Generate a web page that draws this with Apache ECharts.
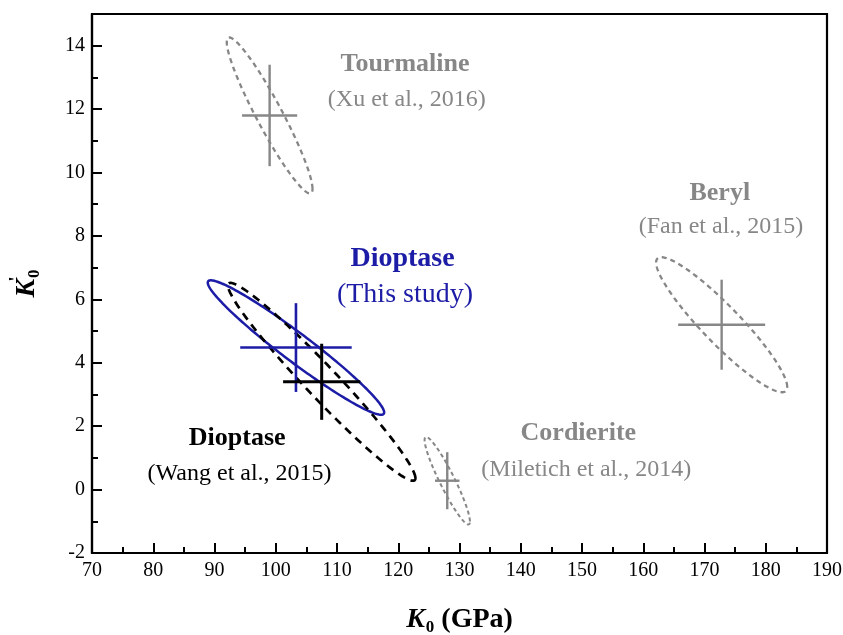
<!DOCTYPE html>
<html>
<head>
<meta charset="utf-8">
<script src="https://cdn.jsdelivr.net/npm/echarts@6/dist/echarts.min.js"></script>
<style>
  html, body { margin: 0; padding: 0; background: #fff; }
  #chart { width: 843px; height: 635px; }
</style>
</head>
<body>
<div id="chart"></div>
<script>
// Equation-of-state fits: K0 (GPa) vs K0' with confidence ellipses and 1-sigma error crosses
const groups = ['Tourmaline', 'Beryl', 'Cordierite', 'Dioptase (this study)', 'Dioptase (Wang)'];
const k0 = [99.0, 172.8, 128.0, 103.3, 107.5];
const k0p = [11.8, 5.2, 0.28, 4.48, 3.4];
const k0Err = [4.5, 7.1, 2.0, 9.1, 6.3];
const k0pErr = [1.6, 1.42, 0.9, 1.4, 1.2];
// ellipse half-extents along each axis and K0-K0' correlation
const ellipseK0Half = [7.0, 10.7, 3.7, 14.4, 15.3];
const ellipseK0pHalf = [2.46, 2.13, 1.38, 2.12, 3.12];
const ellipseRho = [-0.94, -0.92, -0.93, -0.965, -0.973];

// annotation texts and their anchors in data units
const labelText = ['Tourmaline', '(Xu et al., 2016)', 'Beryl', '(Fan et al., 2015)',
  'Dioptase', '(This study)', 'Dioptase', '(Wang et al., 2015)', 'Cordierite', '(Miletich et al., 2014)'];
const labelK0 = [121.1, 121.4, 172.5, 172.7, 120.7, 121.1, 93.7, 94.1, 149.4, 150.7];
const labelK0p = [13.4, 12.29, 9.36, 8.29, 7.28, 6.14, 1.63, 0.49, 1.79, 0.64];

const xTickStep = 10, yTickStep = 2;

const SERIF = "'Liberation Serif', 'Times New Roman', serif";
const GRAY = '#878787', BLUE = '#1c1ca6', BLACK = '#000';

const groupStyle = [
  { color: GRAY, ellWidth: 2.3, dash: [5, 4], crossWidth: 2.4 },
  { color: GRAY, ellWidth: 2.3, dash: [5, 4], crossWidth: 2.4 },
  { color: GRAY, ellWidth: 2, dash: [4, 3], crossWidth: 2.4 },
  { color: BLUE, ellWidth: 2.5, dash: null, crossWidth: 2.6 },
  { color: BLACK, ellWidth: 2.7, dash: [8, 6], crossWidth: 3 }
];
const labelStyle = [
  { c: GRAY, w: 'bold', s: 26 }, { c: GRAY, w: 'normal', s: 24 },
  { c: GRAY, w: 'bold', s: 26 }, { c: GRAY, w: 'normal', s: 24 },
  { c: BLUE, w: 'bold', s: 28 }, { c: BLUE, w: 'normal', s: 28 },
  { c: BLACK, w: 'bold', s: 26 }, { c: BLACK, w: 'normal', s: 24 },
  { c: GRAY, w: 'bold', s: 26 }, { c: GRAY, w: 'normal', s: 24 }
];

function ellipseRenderer(st) {
  return function (params, api) {
    const cx = api.value(0), cy = api.value(1), a = api.value(2), b = api.value(3), r = api.value(4);
    const s = Math.sqrt(1 - r * r);
    const pts = [];
    const n = 200;
    for (let k = 0; k < n; k++) {
      const t = 2 * Math.PI * k / n;
      pts.push(api.coord([cx + a * Math.cos(t), cy + b * (r * Math.cos(t) + s * Math.sin(t))]));
    }
    return {
      type: 'polygon',
      shape: { points: pts },
      style: { fill: 'none', stroke: st.color, lineWidth: st.ellWidth, lineDash: st.dash || null }
    };
  };
}

function crossRenderer(st) {
  return function (params, api) {
    const cx = api.value(0), cy = api.value(1), ex = api.value(2), ey = api.value(3);
    const l = api.coord([cx - ex, cy]), r = api.coord([cx + ex, cy]);
    const t = api.coord([cx, cy + ey]), b = api.coord([cx, cy - ey]);
    const ls = { stroke: st.color, lineWidth: st.crossWidth, fill: 'none' };
    return {
      type: 'group',
      children: [
        { type: 'line', shape: { x1: l[0], y1: l[1], x2: r[0], y2: r[1] }, style: ls },
        { type: 'line', shape: { x1: t[0], y1: t[1], x2: b[0], y2: b[1] }, style: ls }
      ]
    };
  };
}

const series = [];
groups.forEach((g, i) => {
  const st = groupStyle[i];
  series.push({
    name: g + ' ellipse', type: 'custom', xAxisIndex: 0, yAxisIndex: 0,
    renderItem: ellipseRenderer(st),
    data: [[k0[i], k0p[i], ellipseK0Half[i], ellipseK0pHalf[i], ellipseRho[i]]],
    silent: true, z: 3
  });
  series.push({
    name: g + ' error', type: 'custom', xAxisIndex: 0, yAxisIndex: 0,
    renderItem: crossRenderer(st),
    data: [[k0[i], k0p[i], k0Err[i], k0pErr[i]]],
    silent: true, z: 4
  });
});

series.push({
  name: 'annotations', type: 'custom', xAxisIndex: 0, yAxisIndex: 0,
  renderItem: function (params, api) {
    const i = params.dataIndex;
    const p = api.coord([api.value(0), api.value(1)]);
    const ls = labelStyle[i];
    return {
      type: 'text', x: p[0], y: p[1],
      style: {
        text: labelText[i], fill: ls.c, align: 'center', verticalAlign: 'middle',
        font: ls.w + ' ' + ls.s + 'px ' + SERIF
      }
    };
  },
  data: labelText.map((t, i) => [labelK0[i], labelK0p[i]]),
  silent: true, z: 5
});

const baseAxis = {
  type: 'value',
  splitLine: { show: false },
  axisLine: { show: true, onZero: false, lineStyle: { color: '#000', width: 2.2 } },
  axisTick: { show: true, inside: true, length: 10, lineStyle: { color: '#000', width: 2 } },
  axisLabel: { color: '#000', fontFamily: SERIF, fontSize: 20 }
};

const option = {
  animation: false,
  backgroundColor: '#fff',
  grid: {
    left: 92, right: 16, top: 14, bottom: 82,
    show: true, borderColor: '#000', borderWidth: 2.2, backgroundColor: 'transparent',
    outerBoundsMode: 'none', containLabel: false
  },
  xAxis: [
    Object.assign({}, baseAxis, {
      position: 'bottom', min: 70, max: 190, interval: xTickStep,
      axisLabel: Object.assign({}, baseAxis.axisLabel, { margin: 8 }),
      name: '{k|K}{s|0}{t| (GPa)}',
      nameLocation: 'middle', nameGap: 50,
      nameTextStyle: {
        rich: {
          k: { fontFamily: SERIF, fontSize: 28, fontWeight: 'bold', fontStyle: 'italic', color: '#000' },
          s: { fontFamily: SERIF, fontSize: 17, fontWeight: 'bold', color: '#000', padding: [16, 0, 0, 1] },
          t: { fontFamily: SERIF, fontSize: 28, fontWeight: 'bold', color: '#000' }
        }
      }
    }),
    Object.assign({}, baseAxis, {
      position: 'bottom', min: 70, max: 190, interval: xTickStep / 2,
      axisLine: { show: false, onZero: false },
      axisTick: { show: true, inside: true, length: 6, lineStyle: { color: '#000', width: 2 } },
      axisLabel: { show: false }
    })
  ],
  yAxis: [
    Object.assign({}, baseAxis, {
      position: 'left', min: -2, max: 15, interval: yTickStep,
      axisLabel: Object.assign({}, baseAxis.axisLabel, {
        margin: 7,
        formatter: v => (v % yTickStep === 0 ? String(v) : '')
      }),
      name: '{k|K}{p|\'}{s|0}',
      nameLocation: 'middle', nameGap: 46, nameRotate: 90,
      nameTextStyle: {
        rich: {
          k: { fontFamily: SERIF, fontSize: 28, fontWeight: 'bold', fontStyle: 'italic', color: '#000' },
          p: { fontFamily: SERIF, fontSize: 18, fontWeight: 'bold', color: '#000', width: 0, padding: [0, 0, 20, 0] },
          s: { fontFamily: SERIF, fontSize: 17, fontWeight: 'bold', color: '#000', padding: [16, 0, 0, 1] }
        }
      }
    }),
    Object.assign({}, baseAxis, {
      position: 'left', min: -2, max: 15, interval: yTickStep / 2,
      axisLine: { show: false, onZero: false },
      axisTick: { show: true, inside: true, length: 6, lineStyle: { color: '#000', width: 2 } },
      axisLabel: { show: false }
    })
  ],
  series: series
};

const chart = echarts.init(document.getElementById('chart'), null, { renderer: 'canvas' });
chart.setOption(option);
</script>
</body>
</html>
